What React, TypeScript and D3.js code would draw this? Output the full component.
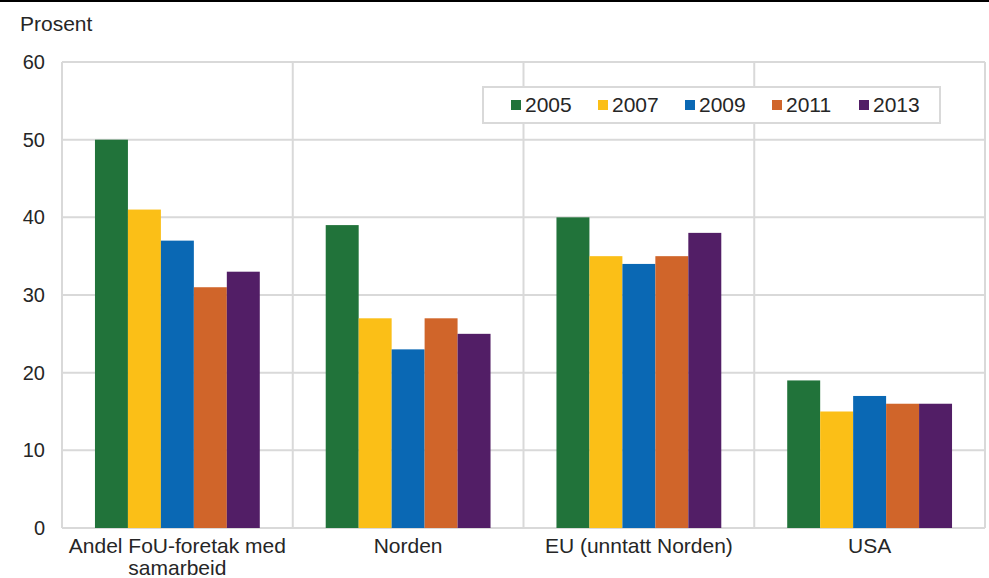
import React from "react";
import * as d3 from "d3";

const categories = ["Andel FoU-foretak med|samarbeid", "Norden", "EU (unntatt Norden)", "USA"];
const seriesNames = ["2005", "2007", "2009", "2011", "2013"];
const values2005 = [50, 39, 40, 19];
const values2007 = [41, 27, 35, 15];
const values2009 = [37, 23, 34, 17];
const values2011 = [31, 27, 35, 16];
const values2013 = [33, 25, 38, 16];
const yTicks = [0, 10, 20, 30, 40, 50, 60];
const colors = ["#21733a", "#fbbf17", "#0a68b4", "#d0652a", "#521e66"];

const W = 989;
const H = 578;
const left = 62;
const right = 985;
const top = 62;
const bottom = 528;
const font = "'Liberation Sans', Arial, sans-serif";
const textColor = "#262626";
const grid = "#d9d9d9";

export default function App() {
  const series = [values2005, values2007, values2009, values2011, values2013];
  const x0 = d3.scaleBand<string>().domain(categories).range([left, right]).paddingInner(0).paddingOuter(0);
  const catW = x0.bandwidth();
  const x1 = d3
    .scaleBand<string>()
    .domain(seriesNames)
    .range([catW / 7, (catW * 6) / 7])
    .padding(0);
  const y = d3.scaleLinear().domain([0, 60]).range([bottom, top]);

  const legendX = [511, 598, 685, 772, 859];

  return (
    <svg
      width={W}
      height={H}
      style={{ position: "absolute", left: 0, top: 0, display: "block", background: "#fff" }}
      fontFamily={font}
    >
      <rect x={0} y={0} width={W} height={H} fill="#fff" />
      <line x1={0} x2={W} y1={1} y2={1} stroke="#000" strokeWidth={2} />
      <text x={20} y={31} fontSize={21} fill={textColor}>
        Prosent
      </text>
      {yTicks.map((t) => (
        <g key={t}>
          <line x1={left} x2={right} y1={y(t)} y2={y(t)} stroke={grid} strokeWidth={2} />
          <text x={45} y={y(t) + 7} fontSize={20} textAnchor="end" fill={textColor}>
            {t}
          </text>
        </g>
      ))}
      {[...categories.map((c) => x0(c)!), right].map((xv, i) => (
        <line key={i} x1={xv} x2={xv} y1={top} y2={bottom} stroke={grid} strokeWidth={2} />
      ))}
      {categories.map((c, ci) =>
        seriesNames.map((s, si) => {
          const v = series[si][ci];
          const bx = x0(c)! + x1(s)!;
          return (
            <rect
              key={c + s}
              x={bx}
              y={y(v)}
              width={x1.bandwidth()}
              height={y(0) - y(v)}
              fill={colors[si]}
            />
          );
        })
      )}
      {categories.map((c) => {
        const lines = c.split("|");
        const cx = x0(c)! + catW / 2;
        return (
          <text key={c} x={cx} y={553} fontSize={21} textAnchor="middle" fill={textColor}>
            {lines.map((l, i) => (
              <tspan key={i} x={cx} dy={i === 0 ? 0 : 22}>
                {l}
              </tspan>
            ))}
          </text>
        );
      })}
      <rect x={483} y={87} width={457} height={36} fill="#fff" stroke={grid} strokeWidth={2} />
      {seriesNames.map((s, i) => (
        <g key={s}>
          <rect x={legendX[i]} y={100} width={10} height={10} fill={colors[i]} />
          <text x={legendX[i] + 14} y={112} fontSize={21} fill={textColor}>
            {s}
          </text>
        </g>
      ))}
    </svg>
  );
}
